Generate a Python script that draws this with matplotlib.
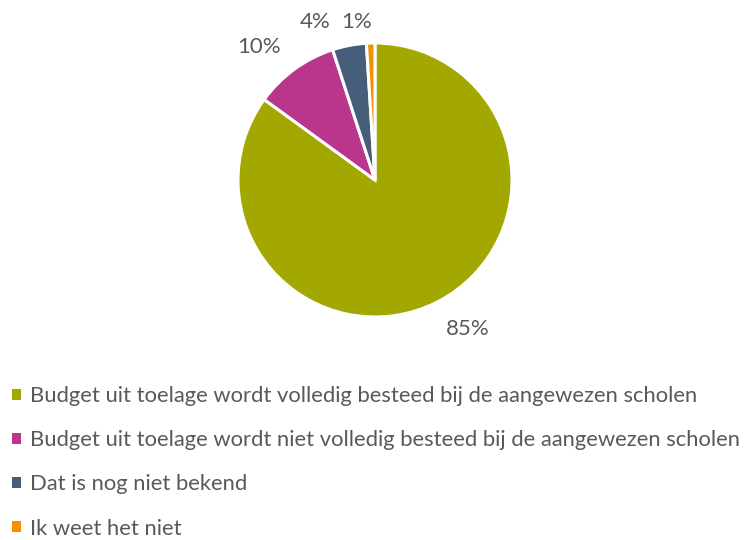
import numpy as np
import matplotlib
matplotlib.use("Agg")
import matplotlib.pyplot as plt
from matplotlib.patches import Patch

categories = [
    "Budget uit toelage wordt volledig besteed bij de aangewezen scholen",
    "Budget uit toelage wordt niet volledig besteed bij de aangewezen scholen",
    "Dat is nog niet bekend",
    "Ik weet het niet",
]
values = [85, 10, 4, 1]
pct_labels = ["85%", "10%", "4%", "1%"]

colors = ["#A2A800", "#BA358C", "#465E7A", "#F39200"]
text_color = "#595959"
font = ["Lato", "DejaVu Sans"]

# label placement relative to each wedge: angular nudge (deg) and radial factor
label_nudge = [5, 5, 10, 5]
label_dist = [1.28, 1.29, 1.23, 1.16]

fig = plt.figure(figsize=(7.5, 5.4), dpi=100)
ax = fig.add_axes([0, 0, 1, 1])

cx, cy, r = 375, 360, 137
wedges, _ = ax.pie(
    values, colors=colors, startangle=90, counterclock=False,
    center=(cx, cy), radius=r, frame=True,
    wedgeprops=dict(edgecolor="white", linewidth=2.2),
)
ax.set_xlim(0, 750)
ax.set_ylim(0, 540)
ax.set_aspect("equal")
ax.axis("off")

for w, lab, nud, d in zip(wedges, pct_labels, label_nudge, label_dist):
    theta = np.deg2rad((w.theta1 + w.theta2) / 2 + nud)
    ax.text(cx + d * r * np.cos(theta), cy + d * r * np.sin(theta), lab,
            ha="center", va="center", fontsize=16, color=text_color,
            family=font)

handles = [Patch(facecolor=c, edgecolor="none") for c in colors]
leg = ax.legend(
    handles, categories, loc="upper left", bbox_to_anchor=(0.016, 0.285),
    frameon=False, borderpad=0, borderaxespad=0,
    handlelength=0.42, handleheight=0.42, handletextpad=0.42,
    labelspacing=1.1, prop=dict(family=font, size=15.8),
)
for t in leg.get_texts():
    t.set_color(text_color)

fig.savefig("out.png", dpi=100)
